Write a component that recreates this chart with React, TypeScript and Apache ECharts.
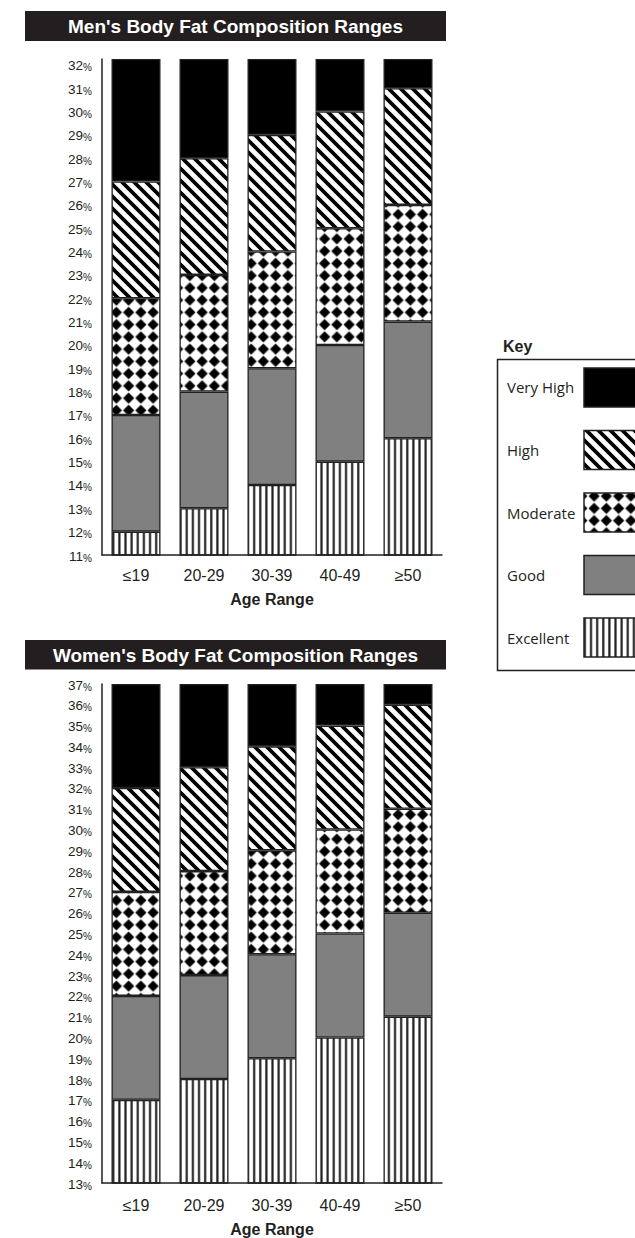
import React, { useEffect, useRef } from 'react';
import * as echarts from 'echarts';

// ---------- data ----------
const ageRanges = ['≤19', '20-29', '30-39', '40-49', '≥50'];
const levels = ['Excellent', 'Good', 'Moderate', 'High', 'Very High'];
const keyOrder = ['Very High', 'High', 'Moderate', 'Good', 'Excellent'];

// upper bound (% body fat) of each range, per age group
const menExcellentTop = [12, 13, 14, 15, 16];
const menGoodTop = [17, 18, 19, 20, 21];
const menModerateTop = [22, 23, 24, 25, 26];
const menHighTop = [27, 28, 29, 30, 31];
const menVeryHighTop = [32.25, 32.25, 32.25, 32.25, 32.25];

const womenExcellentTop = [17, 18, 19, 20, 21];
const womenGoodTop = [22, 23, 24, 25, 26];
const womenModerateTop = [27, 28, 29, 30, 31];
const womenHighTop = [32, 33, 34, 35, 36];
const womenVeryHighTop = [37, 37, 37, 37, 37];

const menAxisMin = 11;
const menAxisMax = 32.25;
const womenAxisMin = 13;
const womenAxisMax = 37;

const menTitle = "Men's Body Fat Composition Ranges";
const womenTitle = "Women's Body Fat Composition Ranges";
const xName = 'Age Range';
const keyTitle = 'Key';

// ---------- styling helpers ----------
const INK = '#231f20';
const SANS = '"Liberation Sans", Arial, Helvetica, sans-serif';
const KEYFONT = '"Open Sans", "Noto Sans", sans-serif';

function tile(w: number, h: number, draw: (ctx: CanvasRenderingContext2D) => void) {
  const s = 8;
  const c = document.createElement('canvas');
  c.width = Math.round(w * s);
  c.height = Math.round(h * s);
  const ctx = c.getContext('2d') as CanvasRenderingContext2D;
  ctx.fillStyle = '#ffffff';
  ctx.fillRect(0, 0, c.width, c.height);
  ctx.scale(s, s);
  draw(ctx);
  return { image: c.toDataURL(), repeat: 'repeat', imageWidth: w, imageHeight: h } as any;
}

function makeFills() {
  const stripes = tile(12, 12, (ctx) => {
    ctx.strokeStyle = '#000';
    ctx.lineWidth = 3.7;
    const P = 12;
    for (let k = -2; k <= 2; k++) {
      ctx.beginPath();
      ctx.moveTo(k * P - P, -P);
      ctx.lineTo(k * P + 2 * P, 2 * P);
      ctx.stroke();
    }
  });
  const diamonds = tile(12.25, 12.25, (ctx) => {
    const c = 12.25 / 2;
    const r = 5.5;
    ctx.fillStyle = '#000';
    ctx.beginPath();
    ctx.moveTo(c, c - r);
    ctx.lineTo(c + r, c);
    ctx.lineTo(c, c + r);
    ctx.lineTo(c - r, c);
    ctx.closePath();
    ctx.fill();
  });
  const verticals = tile(6.125, 4, (ctx) => {
    ctx.fillStyle = '#1a1a1a';
    ctx.fillRect(2, 0, 2, 4);
  });
  return {
    'Very High': '#000000',
    High: stripes,
    Moderate: diamonds,
    Good: '#808080',
    Excellent: verticals,
  } as Record<string, any>;
}

function stackSeries(stack: string, tops: number[][], gi: number, fills: Record<string, any>) {
  return levels.map((name, li) => ({
    name,
    type: 'bar',
    stack,
    xAxisIndex: gi,
    yAxisIndex: gi,
    barWidth: 49,
    clip: true,
    data: tops[li].map((v, ci) => (li === 0 ? v : +(v - tops[li - 1][ci]).toFixed(4))),
    itemStyle: { color: fills[name], borderColor: INK, borderWidth: 1.3 },
    emphasis: { disabled: true },
  }));
}

function yAxis(gi: number, min: number, max: number) {
  return {
    type: 'value',
    gridIndex: gi,
    min,
    max,
    interval: 1,
    axisLine: { show: true, lineStyle: { color: INK, width: 1.5 } },
    axisTick: { show: false },
    splitLine: { show: false },
    axisLabel: {
      margin: 10,
      formatter: (v: number) => (Number.isInteger(v) ? `{n|${v}}{p|%}` : ''),
      rich: {
        n: { fontSize: 13.5, fontFamily: SANS, color: INK, lineHeight: 16, verticalAlign: 'bottom' },
        p: { fontSize: 10, fontFamily: SANS, color: INK, lineHeight: 12.5, verticalAlign: 'bottom' },
      },
    },
  };
}

function xAxis(gi: number, margin: number, gap: number) {
  return {
    type: 'category',
    gridIndex: gi,
    data: ageRanges,
    z: 5,
    axisLine: { show: true, lineStyle: { color: INK, width: 1.5 } },
    axisTick: { show: false },
    axisLabel: { margin, fontSize: 16, fontFamily: SANS, color: INK },
    name: xName,
    nameLocation: 'middle',
    nameGap: gap,
    nameTextStyle: { fontSize: 16, fontWeight: 'bold', fontFamily: SANS, color: INK },
  };
}

export default function App() {
  const ref = useRef<HTMLDivElement>(null);
  useEffect(() => {
    const el = ref.current as HTMLDivElement;
    const chart = echarts.init(el, null, { renderer: 'svg', width: 635, height: 1238 });
    const fills = makeFills();

    const keyItems: any[] = [];
    keyOrder.forEach((name, i) => {
      keyItems.push({
        type: 'text',
        x: 507,
        y: 387 + i * 62.8,
        style: { text: name, fontSize: 15, fontFamily: KEYFONT, fill: INK, verticalAlign: 'middle' },
      });
      keyItems.push({
        type: 'rect',
        shape: { x: 584, y: 368 + i * 62.5, width: 75, height: 39 },
        style: { fill: fills[name], stroke: INK, lineWidth: 1.5 },
      });
    });

    const option: any = {
      animation: false,
      title: [
        {
          text: menTitle,
          left: 235.5,
          top: 15,
          textAlign: 'center',
          padding: 0,
          textStyle: { color: '#fff', fontSize: 19, fontWeight: 'bold', fontFamily: SANS, lineHeight: 22 },
        },
        {
          text: womenTitle,
          left: 235.5,
          top: 644,
          textAlign: 'center',
          padding: 0,
          textStyle: { color: '#fff', fontSize: 19, fontWeight: 'bold', fontFamily: SANS, lineHeight: 22 },
        },
      ],
      grid: [
        { left: 102, top: 59, width: 340, height: 496, containLabel: false },
        { left: 102, top: 684, width: 340, height: 502, containLabel: false },
      ],
      xAxis: [xAxis(0, 12, 36), xAxis(1, 14, 38)],
      yAxis: [yAxis(0, menAxisMin, menAxisMax), yAxis(1, womenAxisMin, womenAxisMax)],
      graphic: [
        { type: 'rect', z: -1, shape: { x: 25, y: 11, width: 421, height: 30 }, style: { fill: INK } },
        { type: 'rect', z: -1, shape: { x: 25, y: 640, width: 421, height: 29.5 }, style: { fill: INK } },
        {
          type: 'text',
          x: 503,
          y: 346,
          style: { text: keyTitle, fontSize: 16, fontWeight: 'bold', fontFamily: SANS, fill: INK, verticalAlign: 'middle' },
        },
        {
          type: 'rect',
          shape: { x: 497.5, y: 359.5, width: 180, height: 311 },
          style: { fill: 'none', stroke: INK, lineWidth: 1.5 },
        },
        ...keyItems,
      ],
      series: [
        ...stackSeries(
          'men',
          [menExcellentTop, menGoodTop, menModerateTop, menHighTop, menVeryHighTop],
          0,
          fills
        ),
        ...stackSeries(
          'women',
          [womenExcellentTop, womenGoodTop, womenModerateTop, womenHighTop, womenVeryHighTop],
          1,
          fills
        ),
      ],
    };
    chart.setOption(option);
    return () => chart.dispose();
  }, []);
  return (
    <div
      ref={ref}
      style={{ position: 'absolute', left: 0, top: 0, width: 635, height: 1238, background: '#fff' }}
    />
  );
}
